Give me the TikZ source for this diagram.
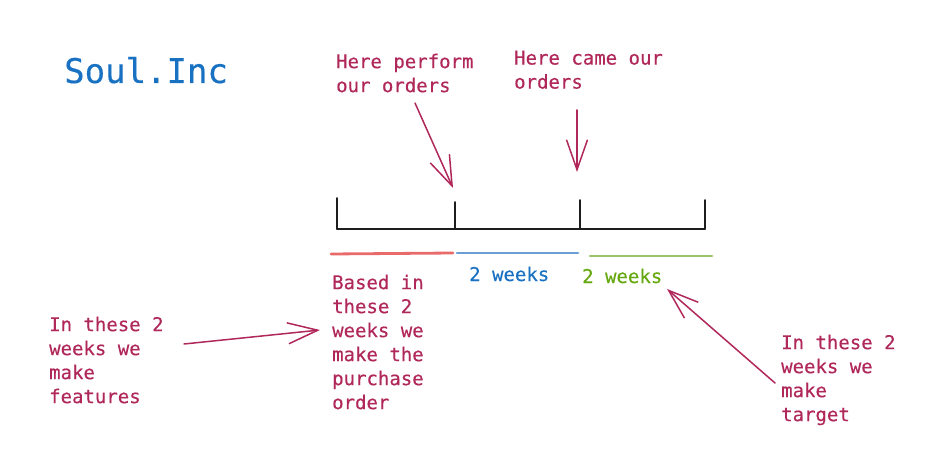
\documentclass[tikz,border=0pt]{standalone}
\usepackage{fontspec}
\newfontfamily\codefont[FakeBold=0.3]{DejaVu Sans Mono}
\usetikzlibrary{arrows.meta}
\definecolor{txtred}{HTML}{B0285A}
\definecolor{txtblue}{HTML}{1971C2}
\definecolor{txtgreen}{HTML}{66A80F}
\definecolor{linered}{HTML}{E86A6A}
\definecolor{lineblue}{HTML}{6A9FD6}
\definecolor{linegreen}{HTML}{9BC46B}
\definecolor{ink}{HTML}{1E1E1E}
\tikzset{
  note/.style={font=\codefont\fontsize{19}{24}\selectfont, text=txtred, inner sep=0pt, align=left, anchor=north west},
  weeks/.style={font=\codefont\fontsize{19}{24}\selectfont, inner sep=0pt, anchor=base west},
  pointer/.style={draw=txtred, line width=1.5pt, line cap=round, -{Straight Barb[length=30pt,width=21pt,line width=1.5pt]}},
  axis/.style={draw=ink, line width=1.8pt, line cap=round},
  band/.style={line width=2.8pt, line cap=round},
}
\begin{document}
\begin{tikzpicture}[x=1pt,y=-1pt]
\useasboundingbox (0,0) rectangle (945,457);
% title
\node[font=\codefont\fontsize{34}{40}\selectfont, text=txtblue, inner sep=0pt, anchor=base west] (title) at (64,83) {Soul.Inc};
% timeline
\coordinate (t0) at (337,229);
\coordinate (t1) at (455,229);
\coordinate (t2) at (580,229);
\coordinate (t3) at (705,229);
\coordinate (h0) at (337,198);
\coordinate (h1) at (455,202);
\coordinate (h2) at (580,200);
\coordinate (h3) at (705,200);
\draw[axis] (t0) -- (t3);
\draw[axis] (h0) -- (t0);
\draw[axis] (h1) -- (t1);
\draw[axis] (h2) -- (t2);
\draw[axis] (h3) -- (t3);
% colored bands
\coordinate (r0) at (331,254);
\coordinate (r1) at (453,253);
\coordinate (b0) at (457,253);
\coordinate (b1) at (578,253);
\coordinate (g0) at (590,256);
\coordinate (g1) at (712,256);
\draw[band, draw=linered] (r0) -- (r1);
\draw[band, draw=lineblue] (b0) -- (b1);
\draw[band, draw=linegreen] (g0) -- (g1);
% labels
\node[weeks, text=txtblue] (wblue) at (469,281) {2 weeks};
\node[weeks, text=txtgreen] (wgreen) at (582,283) {2 weeks};
\node[note] (perform) at (336,53.5) {Here perform\\our orders};
\node[note] (came) at (514,50.5) {Here came our\\orders};
\node[note] (based) at (332,274.5) {Based in\\these 2\\weeks we\\make the\\purchase\\order};
\node[note] (features) at (49,316.5) {In these 2\\weeks we\\make\\features};
\node[note] (target) at (781,334.5) {In these 2\\weeks we\\make\\target};
% arrows
\coordinate (a1s) at (415,103);
\coordinate (a1e) at (453,188);
\coordinate (a2s) at (577,110);
\coordinate (a2e) at (577,172);
\coordinate (a3s) at (184,344);
\coordinate (a3e) at (320,330);
\coordinate (a4s) at (775,383);
\coordinate (a4e) at (667,289);
\draw[pointer] (a1s) -- (a1e);
\draw[pointer] (a2s) -- (a2e);
\draw[pointer] (a3s) -- (a3e);
\draw[pointer] (a4s) -- (a4e);
\end{tikzpicture}
\end{document}
